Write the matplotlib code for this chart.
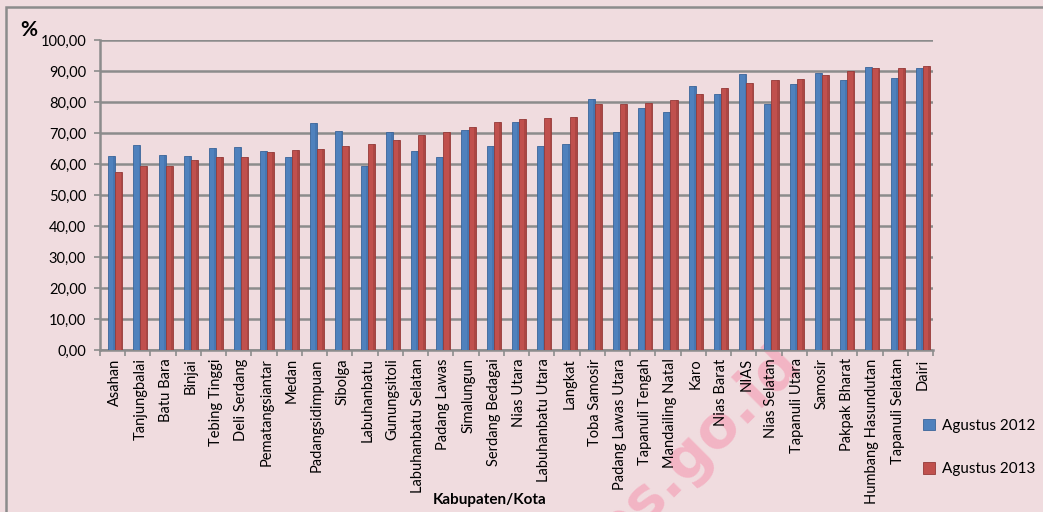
import matplotlib
matplotlib.use("Agg")
import matplotlib.pyplot as plt
from matplotlib.patches import Rectangle
import numpy as np

plt.rcParams['font.family'] = ['Lato', 'DejaVu Sans']

kabupaten = [
    "Asahan", "Tanjungbalai", "Batu Bara", "Binjai", "Tebing Tinggi",
    "Deli Serdang", "Pematangsiantar", "Medan", "Padangsidimpuan", "Sibolga",
    "Labuhanbatu", "Gunungsitoli", "Labuhanbatu Selatan", "Padang Lawas",
    "Simalungun", "Serdang Bedagai", "Nias Utara", "Labuhanbatu Utara",
    "Langkat", "Toba Samosir", "Padang Lawas Utara", "Tapanuli Tengah",
    "Mandailing Natal", "Karo", "Nias Barat", "NIAS", "Nias Selatan",
    "Tapanuli Utara", "Samosir", "Pakpak Bharat", "Humbang Hasundutan",
    "Tapanuli Selatan", "Dairi",
]
agustus_2012 = [
    62.6, 66.2, 62.9, 62.5, 65.2, 65.4, 64.1, 62.2, 73.1, 70.6,
    59.2, 70.2, 64.3, 62.1, 71.1, 65.9, 73.5, 65.7, 66.5, 81.1,
    70.4, 78.1, 76.7, 85.2, 82.5, 88.9, 79.5, 85.7, 89.2, 87.0,
    91.3, 87.7, 91.1,
]
agustus_2013 = [
    57.3, 59.5, 59.5, 61.4, 62.1, 62.1, 63.8, 64.4, 64.7, 65.8,
    66.4, 67.9, 69.4, 70.4, 72.0, 73.7, 74.4, 74.9, 75.1, 79.2,
    79.5, 79.7, 80.5, 82.5, 84.6, 86.2, 87.0, 87.3, 88.7, 90.0,
    90.9, 91.1, 91.7,
]
yticks = [0, 10, 20, 30, 40, 50, 60, 70, 80, 90, 100]

BG = "#f0dcdf"
BLUE = "#4f81bd"
BLUE_SIDE = "#3a6499"
RED = "#c0504d"
RED_SIDE = "#953a38"
GRID = "#8c8c8c"

W, H = 1043, 512
fig = plt.figure(figsize=(W / 100, H / 100), dpi=100, facecolor=BG)

# outer chart frame
fig.patches.append(Rectangle((6 / W, -0.05), 1.1, 1 - 7 / H + 0.05,
                             transform=fig.transFigure, fill=False,
                             edgecolor=GRID, lw=1.8, zorder=0))

# faint diagonal watermark behind everything, running off the bottom edge
fig.text(682 / W, 1 - 462 / H, "bps.go.id", rotation=45, fontsize=42,
         fontweight="bold", color="#f59ab2", alpha=0.6,
         family="DejaVu Sans", ha="center", va="center",
         rotation_mode="anchor", zorder=-1)

left, right = 100 / W, 933 / W
bottom, top = 1 - 350 / H, 1 - 40 / H
ax = fig.add_axes([left, bottom, right - left, top - bottom])
ax.set_facecolor("none")

n = len(kabupaten)
x = np.arange(n)
bw = 0.28
ax.bar(x, agustus_2012, width=bw, color=BLUE, edgecolor=BLUE_SIDE,
       linewidth=0.6, zorder=3, label="Agustus 2012")
ax.bar(x + bw, agustus_2013, width=bw, color=RED, edgecolor=RED_SIDE,
       linewidth=0.6, zorder=3, label="Agustus 2013")
# darker side faces for a bit of depth
ax.bar(x + bw * 0.38, agustus_2012, width=bw * 0.24, color=BLUE_SIDE,
       linewidth=0, zorder=3.1, alpha=0.35)
ax.bar(x + bw * 1.38, agustus_2013, width=bw * 0.24, color=RED_SIDE,
       linewidth=0, zorder=3.1, alpha=0.45)

ax.set_xlim(-0.46, n - 0.46)
ax.set_ylim(0, 100)
ax.set_yticks(yticks)
ax.set_yticklabels([f"{v:.2f}".replace(".", ",") for v in yticks],
                   fontsize=10.5)
ax.yaxis.grid(True, color=GRID, lw=1.8, zorder=1)
ax.set_axisbelow(True)

ax.set_xticks(x + bw / 2)
ax.set_xticklabels(kabupaten, rotation=90, fontsize=10.5, va="top")
ax.set_xticks(np.arange(n + 1) - 0.46, minor=True)
ax.tick_params(axis="x", which="major", length=0, pad=6)
ax.tick_params(axis="x", which="minor", length=4, color=GRID, width=1.2)
ax.tick_params(axis="y", length=4, color=GRID, width=1.2, pad=6)

for s in ["top", "right"]:
    ax.spines[s].set_visible(False)
ax.spines["left"].set_color(GRID)
ax.spines["left"].set_linewidth(1.8)
ax.spines["bottom"].set_color(GRID)
ax.spines["bottom"].set_linewidth(1.8)

fig.text(490 / W, 1 - 500 / H, "Kabupaten/Kota", fontsize=11,
         fontweight="bold", ha="center", va="center")
fig.text(20 / W, 1 - 30 / H, "%", fontsize=15, fontweight="bold",
         ha="left", va="center")

leg = ax.legend(loc="upper left", bbox_to_anchor=(915 / W, 1 - 411 / H),
                bbox_transform=fig.transFigure, frameon=False, fontsize=11,
                handlelength=0.8, handleheight=0.8, handletextpad=0.45,
                labelspacing=1.9, borderpad=0)

fig.savefig("out.png", dpi=100, facecolor=BG)
